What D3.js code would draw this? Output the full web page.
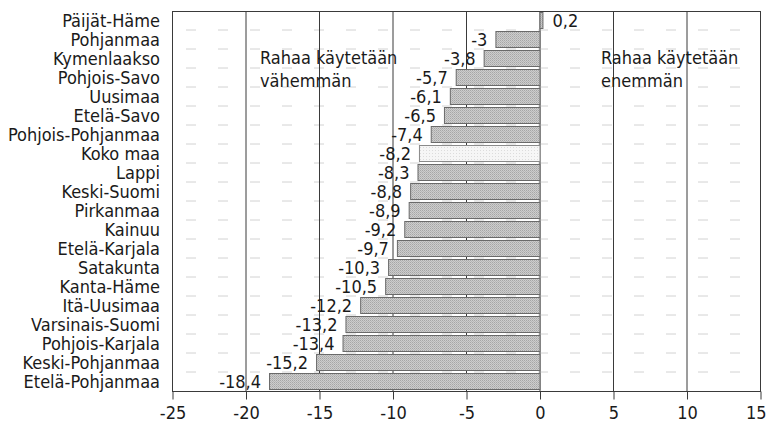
<!DOCTYPE html>
<html>
<head>
<meta charset="utf-8">
<script src="https://cdn.jsdelivr.net/npm/d3@7"></script>
<style>
  html, body { margin: 0; padding: 0; background: #fff; }
  svg { display: block; }
  text { font-family: "DejaVu Sans Condensed", "Liberation Sans Narrow", sans-serif; fill: #1a1a1a; }
</style>
</head>
<body>
<svg id="chart" width="767" height="424"></svg>
<script>
// Regions, top to bottom, and the change in money spent (%)
const regions = [
  "Päijät-Häme", "Pohjanmaa", "Kymenlaakso", "Pohjois-Savo", "Uusimaa",
  "Etelä-Savo", "Pohjois-Pohjanmaa", "Koko maa", "Lappi", "Keski-Suomi",
  "Pirkanmaa", "Kainuu", "Etelä-Karjala", "Satakunta", "Kanta-Häme",
  "Itä-Uusimaa", "Varsinais-Suomi", "Pohjois-Karjala", "Keski-Pohjanmaa", "Etelä-Pohjanmaa"
];
const values = [
  0.2, -3, -3.8, -5.7, -6.1,
  -6.5, -7.4, -8.2, -8.3, -8.8,
  -8.9, -9.2, -9.7, -10.3, -10.5,
  -12.2, -13.2, -13.4, -15.2, -18.4
];
const xTicks = [-25, -20, -15, -10, -5, 0, 5, 10, 15];
const gridValues = [-20, -15, -10, -5, 0, 5, 10];
const totalLabel = "Koko maa";
const noteLeft = ["Rahaa käytetään", "vähemmän"];
const noteRight = ["Rahaa käytetään", "enemmän"];

const data = regions.map((r, i) => ({ region: r, value: values[i] }));
const fmt = v => String(v).replace(".", ",");
const FS = 18;

const svg = d3.select("#chart");
const plotL = 172, plotR = 760, plotT = 11, plotB = 391;

const x = d3.scaleLinear().domain([-25, 15]).range([plotL, plotR]);
const y = d3.scaleBand().domain(regions).range([plotT, plotB]).paddingInner(0.14).paddingOuter(0.07);

// Halftone-like fills for the bars
const defs = svg.append("defs");
const pat = defs.append("pattern").attr("id", "dots")
  .attr("width", 2).attr("height", 2).attr("patternUnits", "userSpaceOnUse");
pat.append("rect").attr("width", 2).attr("height", 2).attr("fill", "#cdcdcd");
pat.append("rect").attr("width", 1).attr("height", 1).attr("fill", "#a6a6a6");
pat.append("rect").attr("x", 1).attr("y", 1).attr("width", 1).attr("height", 1).attr("fill", "#b6b6b6");

const patL = defs.append("pattern").attr("id", "dotsLight")
  .attr("width", 3).attr("height", 3).attr("patternUnits", "userSpaceOnUse");
patL.append("rect").attr("width", 3).attr("height", 3).attr("fill", "#f6f6f6");
patL.append("rect").attr("width", 1).attr("height", 1).attr("fill", "#dcdcdc");

// Faint dotted separators between rows
const sepY = d3.range(1, regions.length).map(i => plotT + i * (plotB - plotT) / regions.length);
svg.append("g").selectAll("line").data(sepY).join("line")
  .attr("x1", plotL + 14).attr("x2", plotR - 2)
  .attr("y1", d => d).attr("y2", d => d)
  .attr("stroke", "#d2d2d2").attr("stroke-width", 1)
  .attr("stroke-dasharray", "10,22");

// Vertical gridlines
svg.append("g").selectAll("line").data(gridValues).join("line")
  .attr("x1", d => x(d) + 0.5).attr("x2", d => x(d) + 0.5)
  .attr("y1", plotT).attr("y2", plotB)
  .attr("stroke", "#3a3a3a").attr("stroke-width", 1);

// Bars
svg.append("g").selectAll("rect").data(data).join("rect")
  .attr("x", d => x(Math.min(0, d.value)) + 0.5)
  .attr("y", d => Math.round(y(d.region)) + 0.5)
  .attr("width", d => Math.abs(x(d.value) - x(0)))
  .attr("height", Math.round(y.bandwidth()))
  .attr("fill", d => d.region === totalLabel ? "url(#dotsLight)" : "url(#dots)")
  .attr("stroke", d => d.region === totalLabel ? "#8a8a8a" : "#6a6a6a")
  .attr("stroke-width", 1);

// Value labels
svg.append("g").selectAll("text").data(data).join("text")
  .attr("x", d => d.value < 0 ? x(d.value) - 8 : x(d.value) + 10)
  .attr("y", d => y(d.region) + y.bandwidth() / 2)
  .attr("dy", "0.36em")
  .attr("text-anchor", d => d.value < 0 ? "end" : "start")
  .attr("font-size", FS)
  .text(d => fmt(d.value));

// Frame
svg.append("rect")
  .attr("x", plotL + 0.5).attr("y", plotT + 0.5)
  .attr("width", plotR - plotL).attr("height", plotB - plotT)
  .attr("fill", "none").attr("stroke", "#3a3a3a").attr("stroke-width", 1);

// Bottom axis
const xAxis = svg.append("g").attr("transform", `translate(0.5,${plotB + 0.5})`)
  .call(d3.axisBottom(x).tickValues(xTicks).tickSize(8).tickPadding(7).tickFormat(d => String(d)));
xAxis.select(".domain").remove();
xAxis.selectAll(".tick line").attr("stroke", "#3a3a3a");
xAxis.selectAll(".tick text")
  .attr("font-size", FS)
  .style("font-family", "'DejaVu Sans Condensed', 'Liberation Sans Narrow', sans-serif")
  .attr("fill", "#1a1a1a");
// keep the last tick label inside the page
xAxis.selectAll(".tick").filter(d => d === xTicks[xTicks.length - 1])
  .select("text").attr("text-anchor", "end").attr("x", 766 - x(xTicks[xTicks.length - 1]) - 0.5);

// Category labels
svg.append("g").selectAll("text").data(regions).join("text")
  .attr("x", 160)
  .attr("y", d => y(d) + y.bandwidth() / 2)
  .attr("dy", "0.36em")
  .attr("text-anchor", "end")
  .attr("font-size", FS)
  .text(d => d);

// Annotations
const notes = svg.append("g").attr("font-size", FS);
notes.selectAll(".nl").data(noteLeft).join("text")
  .attr("class", "nl")
  .attr("x", 260).attr("y", (d, i) => 64 + i * 23)
  .text(d => d);
notes.selectAll(".nr").data(noteRight).join("text")
  .attr("class", "nr")
  .attr("x", 601).attr("y", (d, i) => 64 + i * 23)
  .text(d => d);
</script>
</body>
</html>
